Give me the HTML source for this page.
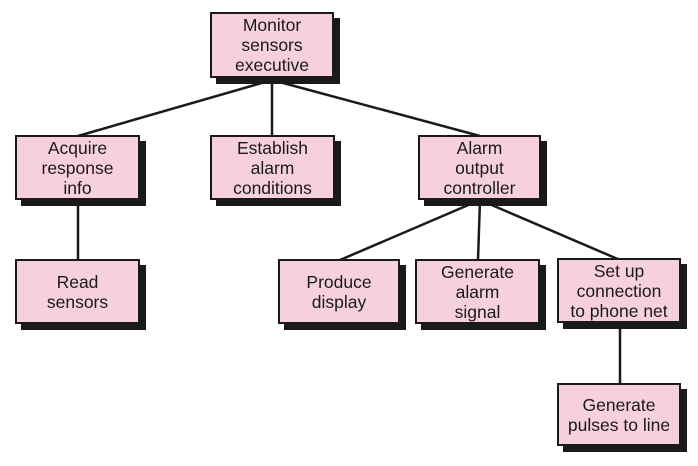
<!DOCTYPE html>
<html><head><style>
body{margin:0;width:698px;height:466px;background:#fff;position:relative;overflow:hidden;font-family:"Liberation Sans",sans-serif}
.b{position:absolute;background:#f6d1dd;border:2px solid #1a1a1a;box-shadow:6px 6px 0 #1a1a1a;box-sizing:border-box;display:flex;align-items:center;justify-content:center;text-align:center;font-size:17.5px;line-height:20px;color:#1a1a1a}
svg{position:absolute;left:0;top:0}
</style></head><body>
<svg width="698" height="466"><g stroke="#1a1a1a" stroke-width="2.5" fill="none">
<line x1="272" y1="80" x2="78" y2="136"/>
<line x1="272" y1="80" x2="272" y2="136"/>
<line x1="272" y1="80" x2="480" y2="136"/>
<line x1="78" y1="200" x2="78" y2="260"/>
<line x1="480" y1="200" x2="340" y2="260"/>
<line x1="480" y1="200" x2="478" y2="260"/>
<line x1="480" y1="200" x2="620" y2="260"/>
<line x1="620" y1="323" x2="620" y2="384"/>
</g></svg>
<div class="b" style="left:210px;top:12px;width:124px;height:66px">Monitor<br>sensors<br>executive</div>
<div class="b" style="left:15px;top:135px;width:125px;height:65px">Acquire<br>response<br>info</div>
<div class="b" style="left:210px;top:135px;width:125px;height:65px">Establish<br>alarm<br>conditions</div>
<div class="b" style="left:418px;top:135px;width:123px;height:65px">Alarm<br>output<br>controller</div>
<div class="b" style="left:15px;top:259px;width:125px;height:65px">Read<br>sensors</div>
<div class="b" style="left:278px;top:259px;width:122px;height:65px">Produce<br>display</div>
<div class="b" style="left:415px;top:259px;width:125px;height:65px">Generate<br>alarm<br>signal</div>
<div class="b" style="left:557px;top:258px;width:124px;height:65px">Set up<br>connection<br>to phone net</div>
<div class="b" style="left:557px;top:383px;width:124px;height:63px">Generate<br>pulses to line</div>
</body></html>
